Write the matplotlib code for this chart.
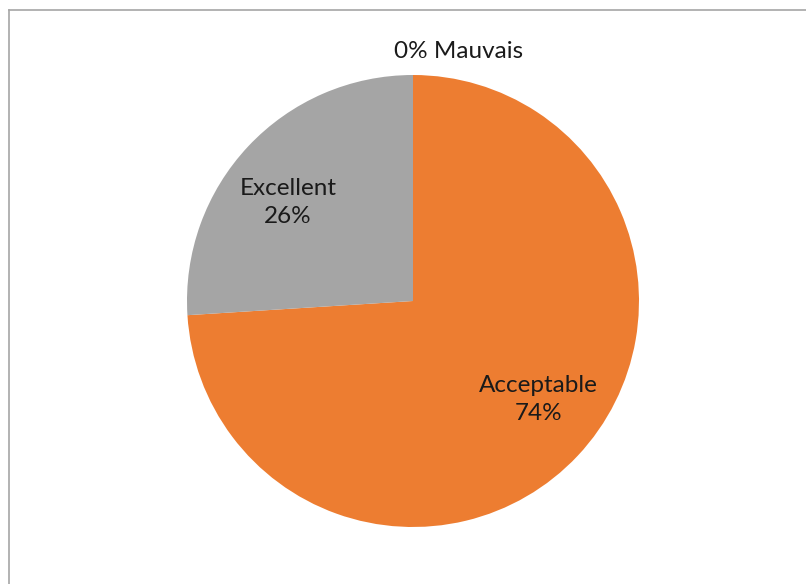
import numpy as np
import matplotlib
matplotlib.use('Agg')
import matplotlib.pyplot as plt
from matplotlib.lines import Line2D

# Quality ratings
categories = ['Mauvais', 'Acceptable', 'Excellent']
shares = [0, 74, 26]
colors = ['#5B9BD5', '#ED7D31', '#A5A5A5']

plt.rcParams['font.family'] = ['Lato', 'DejaVu Sans']

W, H = 806, 584
fig = plt.figure(figsize=(W / 100, H / 100), dpi=100)
ax = fig.add_axes([0, 0, 1, 1])

cx, cy, r = 413, H - 301, 226
wedges, _ = ax.pie(shares, colors=colors, startangle=90, counterclock=False,
                   center=(cx, cy), radius=r, frame=True,
                   wedgeprops=dict(linewidth=0))
ax.set_xlim(0, W)
ax.set_ylim(0, H)
ax.set_aspect('equal')
ax.axis('off')

fs = 17.5
# labels inside the non-empty slices, "0%" slice labelled above the pie
for w, name, val in zip(wedges, categories, shares):
    if val == 0:
        ax.text(cx + 46, cy + r + 24, '%d%% %s' % (val, name), ha='center', va='center',
                fontsize=fs, color='#1a1a1a')
        continue
    ang = np.deg2rad((w.theta1 + w.theta2) / 2 + 5)
    lx = cx + 0.705 * r * np.cos(ang)
    ly = cy + 0.705 * r * np.sin(ang)
    ax.text(lx, ly, '%s\n%d%%' % (name, val), ha='center', va='center',
            fontsize=fs, color='#1a1a1a', linespacing=1.45)

# chart area border (left and top only visible)
fig.add_artist(Line2D([8.5 / W, 8.5 / W], [0, 1 - 9.5 / H], transform=fig.transFigure,
                      color='#a6a6a6', lw=1.2))
fig.add_artist(Line2D([8.5 / W, 1], [1 - 9.5 / H, 1 - 9.5 / H], transform=fig.transFigure,
                      color='#a6a6a6', lw=1.2))

fig.savefig('out.png', dpi=100)
